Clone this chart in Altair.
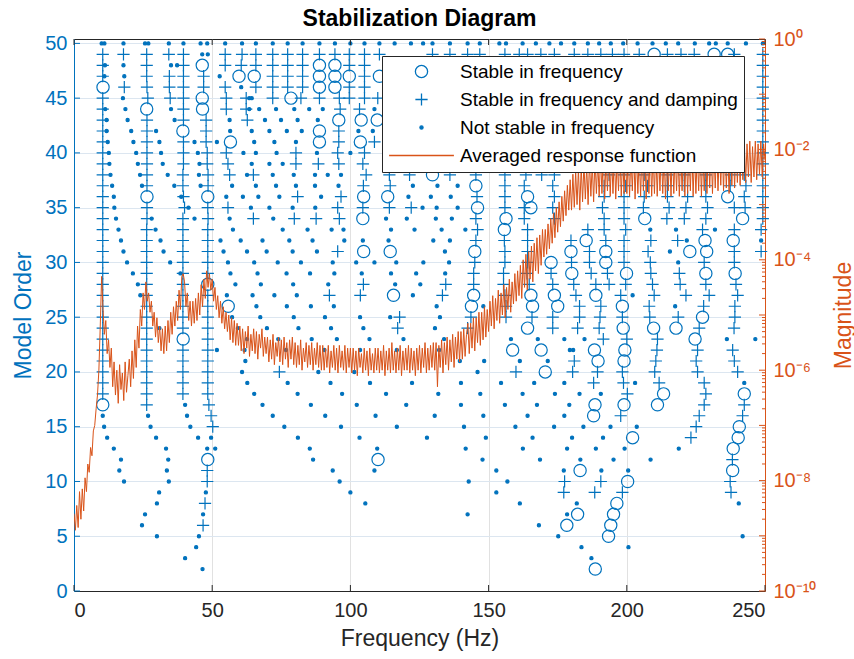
import altair as alt
import pandas as pd

FONT = "Liberation Sans"
BLUE = "#0072BD"
ORANGE = "#D95319"
DARK = "#262626"

SERIES = [
    "Stable in frequency",
    "Stable in frequency and damping",
    "Not stable in frequency",
    "Averaged response function",
]

# Poles stable in frequency (model order -> frequencies in Hz)
STABLE_FREQ = {
    49: [209.9, 231.6, 236.5],
    48: [46.4, 88.8, 94.4],
    47: [59.7, 65.2, 88.8, 94.4, 99.6, 110.5],
    46: [10.5, 88.8, 94.4],
    45: [46.4, 78.5],
    44: [26.3, 46.5],
    43: [95.8, 103.9, 109.7],
    42: [39.4, 88.8],
    41: [56.6, 88.8, 103.6],
    38: [129.7],
    37: [145.4],
    36: [26.4, 48.4, 104.8, 113.5, 164.1, 236.5],
    35: [146.0, 165.3],
    34: [104.5, 156.3, 206.5, 241.9],
    33: [155.7],
    32: [185.3, 228.3, 238.5],
    31: [104.8, 114.4, 145.0, 179.8, 192.4, 222.8, 228.9],
    30: [172.6, 192.4],
    29: [180.1, 199.9, 228.6, 239.2],
    28: [48.4],
    27: [115.6, 144.6, 165.3, 173.8, 188.8],
    26: [55.8, 143.8, 165.9, 175.0, 198.4],
    25: [227.4],
    24: [164.1, 198.7, 209.7, 217.8],
    23: [39.5, 224.7],
    22: [158.7, 169.0, 188.3, 199.3],
    21: [189.6, 199.0],
    20: [170.5],
    18: [213.3, 242.5],
    17: [10.4, 188.5, 199.0, 211.1],
    16: [188.0],
    15: [240.7],
    14: [202.1, 240.3],
    13: [238.5],
    12: [48.4, 110.0],
    11: [183.1, 238.3],
    10: [200.3],
    8: [196.4],
    7: [182.2, 195.2],
    6: [178.3, 194.2],
    5: [193.4],
    2: [188.6],
}

# Poles stable in frequency and damping
STABLE_BOTH = {
    49: [10.4, 17.9, 26.3, 34.3, 39.6, 54.7, 60.8, 65.8, 71.9, 77.3, 82.7, 88.8,
         94.4, 99.6, 105.1, 110.5, 129.7, 136.0, 142.4, 146.8, 155.9, 161.1, 164.1,
         168.9, 173.8, 181.0, 185.9, 190.6, 194.8, 199.0, 204.5, 214.7, 219.6,
         224.4, 238.9, 249.2],
    48: [10.4, 26.3, 39.6, 54.7, 60.5, 65.8, 71.9, 77.3, 82.7, 99.6, 105.1, 249.2],
    47: [10.4, 26.3, 34.5, 39.6, 46.9, 71.9, 77.3, 82.7, 105.1, 249.2],
    46: [18.2, 26.4, 34.5, 39.6, 46.9, 54.7, 65.8, 71.9, 77.3, 82.7, 99.6, 105.1, 249.2],
    45: [10.4, 26.7, 34.8, 39.6, 55.1, 62.3, 71.9, 82.1, 88.8, 96.0, 99.6, 105.1, 109.9, 249.2],
    44: [10.4, 39.6, 55.1, 62.3, 96.3, 103.3, 249.2],
    43: [10.4, 26.4, 39.6, 47.8, 62.7, 249.2],
    42: [10.4, 26.4, 47.8, 95.8, 249.2],
    41: [10.4, 26.4, 39.6, 47.8, 95.8, 108.7, 249.2],
    40: [10.4, 26.4, 39.6, 48.2, 55.1, 80.3, 95.4, 105.1, 249.2],
    39: [10.4, 26.4, 39.6, 48.2, 55.7, 80.3, 88.4, 95.8, 104.5, 249.2],
    38: [10.4, 26.4, 39.4, 48.5, 56.3, 64.9, 105.7, 114.1, 121.4, 136.0, 145.4, 155.9,
         163.5, 169.2, 173.8, 193.6, 199.0, 206.3, 214.7, 220.8, 228.6, 237.7, 242.5, 249.2],
    37: [10.4, 26.4, 39.4, 48.5, 104.7, 114.4, 155.9, 162.9, 173.2, 191.8, 199.6, 207.5,
         214.7, 220.8, 228.6, 237.4, 243.1, 249.2],
    36: [10.4, 39.6, 80.9, 96.6, 145.8, 155.9, 173.8, 191.8, 199.0, 206.3, 214.7, 222.0,
         228.6, 242.5, 249.2],
    35: [10.4, 26.4, 40.0, 48.4, 55.7, 95.4, 104.5, 114.1, 122.0, 155.9, 162.9, 173.2,
         191.2, 199.0, 206.0, 215.3, 221.4, 229.2, 238.9, 242.8, 249.2],
    34: [10.4, 26.4, 39.4, 48.5, 64.9, 79.7, 87.6, 96.0, 145.4, 162.9, 173.8, 191.8,
         199.0, 214.5, 220.8, 228.6, 249.2],
    33: [10.4, 26.3, 39.4, 48.4, 146.0, 164.1, 185.9, 191.8, 199.6, 227.4, 238.9, 248.6],
    32: [10.4, 26.3, 39.4, 48.4, 145.4, 155.7, 164.1, 179.8, 192.4, 199.0, 208.7, 218.4],
    31: [10.4, 26.3, 39.4, 48.4, 95.4, 155.9, 164.1, 186.5, 199.0, 207.7, 238.9, 248.6],
    30: [10.4, 26.3, 39.4, 48.4, 145.0, 155.9, 164.1, 180.0, 186.5, 199.0, 208.5, 228.0, 238.9],
    29: [10.4, 26.3, 39.4, 48.4, 144.6, 155.4, 163.9, 172.6, 187.1, 193.0, 208.7, 219.0],
    28: [10.4, 26.3, 39.4, 104.7, 134.5, 144.6, 155.4, 164.7, 173.2, 180.8, 188.8, 193.6,
         199.6, 209.3, 219.3, 228.6, 239.5],
    27: [10.4, 26.3, 39.4, 48.4, 92.4, 103.6, 133.3, 155.9, 181.6, 197.8, 209.9, 221.4,
         229.8, 240.1],
    26: [10.4, 26.3, 39.4, 48.4, 156.3, 182.9, 190.6, 208.1, 227.8, 239.1],
    25: [10.4, 26.3, 39.4, 48.4, 117.8, 143.6, 156.3, 165.7, 173.2, 182.9, 190.3, 198.4,
         208.3, 218.6, 239.1],
    24: [10.4, 26.3, 39.4, 48.4, 117.1, 142.4, 173.2, 182.2, 190.0, 226.2, 238.8],
    23: [10.4, 26.3, 48.4, 191.5, 200.0, 211.1],
    22: [10.4, 26.3, 39.4, 48.4, 210.9, 225.6, 238.3],
    21: [10.4, 26.3, 39.4, 48.4, 181.0, 210.5, 225.1, 238.9],
    20: [10.4, 26.3, 39.4, 48.4, 74.3, 159.9, 180.4, 189.4, 198.4, 210.1, 225.6, 240.1],
    19: [10.4, 26.3, 39.4, 48.4, 188.0, 198.8, 211.7, 228.0],
    18: [10.4, 26.3, 39.4, 48.4, 200.2, 228.6],
    17: [26.3, 48.8, 228.0, 242.5],
    16: [49.6, 197.8, 226.2, 241.9],
    15: [50.2, 225.1],
    14: [223.2],
    12: [238.2],
    11: [48.2],
    10: [48.2, 177.5, 190.6, 237.4],
    9: [177.2, 188.4, 198.4, 237.7],
    8: [47.4],
    6: [46.7],
}

# Poles not stable in frequency
NOT_STABLE = {
    50: [10.0, 11.0, 17.9, 25.7, 26.9, 34.3, 39.6, 45.8, 48.2, 54.7, 60.8, 65.8, 71.9,
         77.3, 82.7, 88.8, 94.4, 100.0, 105.1, 110.5, 116.0, 121.9, 126.3, 129.7, 136.0,
         142.4, 146.8, 153.9, 156.3, 162.3, 167.1, 172.0, 176.2, 181.0, 185.9, 190.0,
         194.2, 198.7, 203.9, 209.3, 214.1, 218.6, 224.6, 229.8, 232.2, 236.5, 243.1, 249.2],
    49: [46.4, 48.4],
    48: [11.2, 17.9, 35.1, 37.3],
    47: [11.0, 18.2, 52.7],
    46: [60.5],
    45: [17.7, 63.4, 64.3],
    44: [11.3, 18.6, 35.1, 63.4, 67.0, 73.1, 79.7, 85.1, 90.0, 108.7],
    43: [11.8, 19.4, 36.4, 56.3, 69.1, 74.9, 80.9, 88.2],
    42: [11.8, 20.7, 29.7, 56.5, 64.3, 70.7, 77.0, 82.4, 102.9, 108.1],
    41: [12.2, 21.5, 30.9, 43.6, 51.7, 65.2, 72.5, 80.3],
    40: [12.6, 22.5, 31.5, 44.8, 61.3, 65.8, 73.3, 87.9, 100.0],
    39: [12.8, 23.1, 32.1, 45.4, 64.3, 70.7, 75.5],
    38: [13.2, 23.9, 33.9, 45.2, 62.6, 71.9, 79.5, 87.2, 91.8, 96.6],
    37: [13.8, 24.6, 36.3, 45.8, 57.2, 65.8, 73.1, 80.3, 87.2, 95.7, 122.6, 131.5, 138.8],
    36: [14.4, 38.8, 55.1, 61.1, 66.7, 74.3, 89.4, 121.0, 129.1, 136.3],
    35: [14.6, 41.4, 64.0, 70.7, 79.1, 87.3, 126.1, 131.2, 138.8],
    34: [15.2, 28.1, 43.6, 56.3, 72.1, 112.9, 120.4, 130.9, 136.7],
    33: [16.1, 29.5, 57.5, 75.5, 84.5, 93.2, 97.5, 114.7, 123.2, 133.0, 141.6, 208.5,
         217.8, 231.9],
    32: [17.0, 31.3, 53.0, 60.3, 68.2, 77.9, 86.3, 97.8, 104.5, 113.8, 130.0, 136.0,
         221.7, 248.6],
    31: [17.9, 32.4, 54.1, 62.6, 69.7, 79.1, 87.9, 134.2, 215.6],
    30: [19.2, 34.8, 55.7, 65.2, 73.7, 82.1, 93.6, 102.1, 108.7, 116.6, 126.4, 135.7, 218.6],
    29: [21.3, 38.5, 56.6, 66.4, 76.9, 85.4, 94.2, 104.1, 114.7, 123.8, 134.3],
    28: [23.1, 58.4, 67.6, 79.3, 92.0, 116.2, 125.3],
    27: [24.0, 55.3, 64.6, 72.5, 80.6, 122.6, 202.1],
    26: [66.0, 77.0, 85.7, 94.0, 131.2, 148.1, 217.5],
    25: [57.2, 67.4, 79.5, 90.8, 103.5, 114.4, 132.4],
    24: [30.9, 59.3, 69.8, 81.2, 93.0, 104.7, 130.6],
    23: [62.6, 73.9, 86.0, 95.1, 106.9, 119.2, 133.9, 158.1, 167.8, 177.4, 184.7, 236.2, 246.5],
    22: [51.7, 61.7, 76.7, 90.6, 103.5, 116.8, 132.1, 179.4, 180.6],
    21: [62.0, 139.6, 148.4, 161.3, 171.4],
    20: [60.8, 88.4, 101.4, 146.0],
    19: [62.7, 77.3, 92.8, 107.1, 122.3, 140.0, 154.5, 166.5, 177.4, 203.0, 242.5],
    18: [65.2, 80.9, 97.0, 112.9, 131.8, 147.0, 162.3, 174.0, 182.9, 190.6],
    17: [40.2, 68.2, 85.7, 102.3, 120.2, 140.0, 155.9, 167.5, 179.2],
    16: [10.4, 26.8, 40.9, 71.9, 90.9, 109.1, 130.5, 148.1, 164.1, 177.4],
    15: [10.9, 27.7, 42.1, 76.1, 96.6, 116.8, 141.1, 159.7, 173.7, 184.3, 194.1, 203.6],
    14: [12.0, 29.7, 44.9, 49.6, 81.0, 103.3, 127.7, 149.0, 165.9, 180.2, 191.4],
    13: [14.4, 33.3, 48.2, 51.1, 85.3, 109.7, 141.7, 162.4, 178.4, 188.8, 199.2, 218.8],
    12: [17.0, 34.1, 86.5, 147.8, 168.6, 183.2, 195.2, 208.6],
    11: [16.4, 33.6, 93.6, 108.7, 152.8, 177.2, 190.8, 200.5],
    10: [18.1, 34.3, 96.1, 142.8, 156.8],
    9: [30.8, 47.7, 100.0, 152.8],
    8: [30.0, 105.4, 161.3, 181.9, 240.5],
    7: [25.7, 46.7, 142.4, 178.4],
    6: [24.6, 168.2],
    5: [30.0, 45.2, 175.2, 241.9],
    4: [44.2, 183.6, 200.6],
    3: [40.2, 187.2],
    2: [46.5],
}

# Averaged response function: log10 magnitude sampled every 0.5 Hz from 0 to 250 Hz
FREQ_STEP = 0.5
LOG_MAG = [
    -8.6, -8.9, -8.45, -8.85, -8.2, -8.7, -8.15, -8.55, -7.95, -8.2, -7.7, -7.85, -7.4, -7.55, -7.1, -7.0, -6.7, -6.45, -6.0, -5.2,
    -4.3, -4.9, -5.35, -5.1, -5.7, -5.45, -5.95, -5.6, -6.3, -5.85, -6.45, -6.0, -6.6, -5.9, -6.35, -6.05, -6.55, -5.85, -6.4, -6.1,
    -5.8, -6.3, -5.65, -6.15, -5.45, -5.95, -5.2, -5.6, -4.9, -5.2, -4.6, -4.9, -4.4, -4.75, -4.6, -4.95, -4.75, -5.2, -4.95, -5.4,
    -5.05, -5.5, -5.2, -5.65, -5.25, -5.7, -5.2, -5.65, -5.1, -5.5, -4.95, -5.35, -4.85, -5.2, -4.75, -5.1, -4.55, -4.9, -4.3, -4.25,
    -4.4, -4.85, -4.6, -5.1, -4.75, -5.2, -4.75, -5.15, -4.7, -5.1, -4.6, -5.0, -4.45, -4.85, -4.35, -4.7, -4.2, -4.5, -4.25, -4.55,
    -4.35, -4.75, -4.5, -4.9, -4.65, -5.05, -4.75, -5.15, -4.85, -5.25, -4.95, -5.3, -5.0, -5.45, -5.05, -5.5, -5.1, -5.55, -5.15, -5.55,
    -5.2, -5.65, -5.25, -5.7, -5.3, -5.6, -5.2, -5.75, -5.35, -5.65, -5.25, -5.7, -5.3, -5.8, -5.35, -5.6, -5.25, -5.75, -5.4, -5.7,
    -5.4, -5.85, -5.45, -5.8, -5.35, -5.9, -5.5, -5.75, -5.4, -5.85, -5.45, -5.9, -5.4, -5.8, -5.5, -5.95, -5.45, -5.8, -5.4, -5.9,
    -5.5, -5.95, -5.55, -5.9, -5.45, -6.0, -5.6, -5.85, -5.5, -5.95, -5.55, -5.9, -5.5, -6.0, -5.6, -5.9, -5.5, -5.95, -5.55, -6.0,
    -5.55, -6.0, -5.6, -5.95, -5.55, -6.05, -5.65, -5.95, -5.55, -6.0, -5.6, -6.05, -5.55, -5.95, -5.65, -6.0, -5.55, -6.05, -5.6, -5.95,
    -5.6, -6.05, -5.6, -6.0, -5.65, -6.1, -5.6, -5.95, -5.7, -6.05, -5.6, -6.0, -5.65, -6.1, -5.6, -6.0, -5.7, -6.05, -5.6, -6.0,
    -5.6, -6.05, -5.65, -6.0, -5.55, -6.1, -5.65, -6.0, -5.6, -6.05, -5.5, -6.0, -5.65, -6.05, -5.6, -6.0, -5.55, -6.1, -5.65, -6.0,
    -5.6, -6.0, -5.55, -6.05, -5.6, -6.0, -5.65, -6.1, -5.6, -6.0, -5.55, -6.05, -5.6, -5.95, -5.5, -6.05, -5.6, -6.0, -5.55, -5.95,
    -5.5, -6.0, -5.5, -6.3, -5.55, -5.95, -5.45, -6.05, -5.5, -5.9, -5.4, -6.0, -5.45, -5.85, -5.35, -5.95, -5.4, -5.8, -5.3, -5.85,
    -5.3, -5.8, -5.25, -5.75, -5.35, -5.15, -5.7, -5.15, -5.6, -5.05, -5.65, -5.05, -5.5, -4.95, -5.55, -4.95, -5.45, -4.85, -5.4, -4.9,
    -5.3, -4.75, -5.2, -4.65, -5.25, -4.7, -5.1, -4.55, -5.15, -4.6, -5.0, -4.45, -5.05, -4.5, -4.9, -4.35, -4.95, -4.4, -4.8, -4.25,
    -4.75, -4.2, -4.65, -4.1, -4.7, -4.0, -4.5, -3.9, -4.55, -3.85, -4.35, -3.75, -4.4, -3.7, -4.2, -3.6, -4.25, -3.55, -4.1, -3.45,
    -3.95, -3.45, -3.9, -3.35, -3.8, -3.25, -3.7, -3.15, -3.6, -3.05, -3.5, -2.95, -3.4, -2.85, -3.3, -2.75, -3.2, -2.65, -3.1, -2.55,
    -3.1, -2.45, -3.05, -2.4, -3.0, -2.35, -3.1, -2.3, -2.95, -2.25, -2.9, -2.3, -3.0, -2.2, -2.85, -2.25, -2.95, -2.15, -2.8, -2.2,
    -2.85, -2.1, -2.8, -2.05, -2.9, -2.15, -2.75, -2.0, -2.85, -2.1, -2.8, -2.05, -2.9, -2.15, -2.75, -2.0, -2.85, -2.1, -2.8, -2.05,
    -2.8, -2.05, -2.85, -2.1, -2.75, -2.0, -2.9, -2.05, -2.8, -2.1, -2.85, -2.0, -2.75, -2.05, -2.9, -2.1, -2.8, -1.95, -2.85, -2.05,
    -2.8, -2.0, -2.85, -2.05, -2.75, -1.95, -2.8, -2.1, -2.9, -2.0, -2.75, -2.05, -2.85, -1.95, -2.8, -2.05, -2.75, -2.0, -2.85, -2.05,
    -2.75, -2.0, -2.85, -1.95, -2.8, -2.05, -2.75, -1.95, -2.85, -2.0, -2.8, -2.05, -2.75, -1.95, -2.85, -2.0, -2.75, -2.05, -2.8, -1.95,
    -2.7, -1.95, -2.8, -2.0, -2.7, -1.9, -2.75, -2.0, -2.65, -1.95, -2.75, -1.9, -2.7, -2.0, -2.8, -1.95, -2.65, -1.9, -2.7, -1.95,
    -2.6, -1.9, -2.65, -1.95, -2.55, -1.85, -2.6, -1.9, -2.5, -1.85, -2.6, -1.95, -2.5, -1.85, -2.55, -1.9, -2.45, -1.85, -2.5, -1.9,
    -2.2,
]

# Axis ticks
FREQ_TICKS = [0, 50, 100, 150, 200, 250]
ORDER_TICKS = [0, 5, 10, 15, 20, 25, 30, 35, 40, 45, 50]
MAG_LABELLED = [1e-10, 1e-8, 1e-6, 1e-4, 1e-2, 1]
MAG_DECADES = [1e-10, 1e-9, 1e-8, 1e-7, 1e-6, 1e-5, 1e-4, 1e-3, 1e-2, 1e-1, 1]
MINOR_STEPS = [2, 3, 4, 5, 6, 7, 8, 9]

W, H = 691, 552

# ---- tables ----
pole_rows = []
for label, table in ((SERIES[0], STABLE_FREQ), (SERIES[1], STABLE_BOTH), (SERIES[2], NOT_STABLE)):
    for order, freqs in table.items():
        for f in freqs:
            pole_rows.append({"freq": f, "order": order, "series": label})
poles = pd.DataFrame(pole_rows)

frf = pd.DataFrame({
    "freq": [i * FREQ_STEP for i in range(len(LOG_MAG))],
    "mag": [10.0 ** v for v in LOG_MAG],
    "series": SERIES[3],
})

minor_ticks = pd.DataFrame({"mag": [k * d for d in MAG_DECADES[:-1] for k in MINOR_STEPS]})
major_ticks = pd.DataFrame({"mag": MAG_DECADES})
freq_ticks = pd.DataFrame({"freq": FREQ_TICKS})
order_ticks = pd.DataFrame({"order": ORDER_TICKS})

# ---- scales and axes ----
x_scale = alt.Scale(domain=[0, 250], nice=False, zero=False)
order_scale = alt.Scale(domain=[0, 50.4], nice=False, zero=False)
mag_scale = alt.Scale(type="log", domain=[1e-10, 1], nice=False)

PLUS = "M-1,0H1M0,-1V1"
legend = alt.Legend(
    title=None, orient="none", legendX=308, legendY=17,
    fillColor="white", strokeColor=DARK, padding=6,
    labelFont=FONT, labelFontSize=19, labelColor="#000000", labelOffset=5,
    labelLimit=400, rowPadding=8, symbolStrokeWidth=1.3, clipHeight=19,
)
stroke_scale = alt.Scale(domain=SERIES, range=[BLUE, BLUE, BLUE, ORANGE])
shape_scale = alt.Scale(domain=SERIES, range=["circle", PLUS, "circle", "stroke"])
fill_scale = alt.Scale(domain=SERIES, range=["transparent", "transparent", BLUE, "transparent"])
size_scale = alt.Scale(type="ordinal", domain=SERIES, range=[150, 150, 10, 4200])

x_axis = alt.Axis(
    values=FREQ_TICKS, title="Frequency (Hz)", grid=True, gridColor="#E1E1E1",
    tickSize=0, domainColor=DARK, labelColor=DARK, titleColor=DARK,
    labelFont=FONT, labelFontSize=20, titleFont=FONT, titleFontSize=23,
    titleFontWeight="normal", labelPadding=9, titlePadding=7,
)
order_axis = alt.Axis(
    values=ORDER_TICKS, title="Model Order", grid=True, gridColor="#DCE6F0",
    tickSize=0, domainColor=BLUE, labelColor=BLUE, titleColor=BLUE,
    labelFont=FONT, labelFontSize=20, titleFont=FONT, titleFontSize=23,
    titleFontWeight="normal", labelPadding=7, titlePadding=9,
)
e = "round(log(datum.value) / LN10)"
mag_axis = alt.Axis(
    orient="right", values=MAG_LABELLED, title="Magnitude", grid=False,
    labelExpr=(f"{e} == 0 ? '10⁰' : {e} == -2 ? '10⁻²' : {e} == -4 ? '10⁻⁴' : "
               f"{e} == -6 ? '10⁻⁶' : {e} == -8 ? '10⁻⁸' : '10⁻¹⁰'"),
    tickSize=0, domainColor=ORANGE, labelColor=ORANGE, titleColor=ORANGE,
    labelFont=FONT, labelFontSize=20, titleFont=FONT, titleFontSize=23,
    titleFontWeight="normal", labelPadding=8, titleAngle=270,
    titleX=78, titleY=H / 2, titleAlign="center", titleBaseline="middle",
)


def x_enc():
    return alt.X("freq:Q", scale=x_scale, axis=x_axis)


def order_enc():
    return alt.Y("order:Q", scale=order_scale, axis=order_axis)


def mag_enc():
    return alt.Y("mag:Q", scale=mag_scale, axis=mag_axis)


# ---- left (model order) layers ----
points = alt.Chart(poles).mark_point(opacity=1, strokeWidth=1.2).encode(
    x=x_enc(),
    y=order_enc(),
    stroke=alt.Stroke("series:N", scale=stroke_scale, legend=legend),
    fill=alt.Fill("series:N", scale=fill_scale, legend=legend),
    shape=alt.Shape("series:N", scale=shape_scale, legend=legend),
    size=alt.Size("series:N", scale=size_scale, legend=legend),
)

order_tick_marks = alt.Chart(order_ticks).mark_rule(color=BLUE, strokeWidth=1).encode(
    y=order_enc(), x=alt.value(0), x2=alt.value(6),
)
freq_tick_bottom = alt.Chart(freq_ticks).mark_rule(color=DARK, strokeWidth=1).encode(
    x=x_enc(), y=alt.value(H), y2=alt.value(H - 6),
)
freq_tick_top = alt.Chart(freq_ticks).mark_rule(color=DARK, strokeWidth=1).encode(
    x=x_enc(), y=alt.value(0), y2=alt.value(6),
)
left = alt.layer(points, order_tick_marks, freq_tick_bottom, freq_tick_top)

# ---- right (magnitude) layers ----
response = alt.Chart(frf).mark_line(strokeWidth=1.0, clip=True).encode(
    x=x_enc(),
    y=mag_enc(),
    stroke=alt.Stroke("series:N", scale=stroke_scale, legend=legend),
)
mag_major = alt.Chart(major_ticks).mark_rule(color=ORANGE, strokeWidth=1).encode(
    y=mag_enc(), x=alt.value(W), x2=alt.value(W - 6),
)
mag_minor = alt.Chart(minor_ticks).mark_rule(color=ORANGE, strokeWidth=1).encode(
    y=mag_enc(), x=alt.value(W), x2=alt.value(W - 3),
)
right = alt.layer(response, mag_major, mag_minor)

chart = (
    alt.layer(left, right)
    .resolve_scale(y="independent")
    .properties(
        width=W, height=H,
        title=alt.TitleParams("Stabilization Diagram", font=FONT, fontSize=23,
                              fontWeight="bold", color="#000000", offset=6, dy=8,
                              anchor="middle"),
        autosize=alt.AutoSizeParams(type="none"),
        padding={"left": 74, "top": 39, "right": 89, "bottom": 68},
        background="white",
    )
    .configure_view(stroke=DARK, strokeWidth=1)
)

chart.save("out.html", embed_options={"renderer": "svg", "actions": False})
